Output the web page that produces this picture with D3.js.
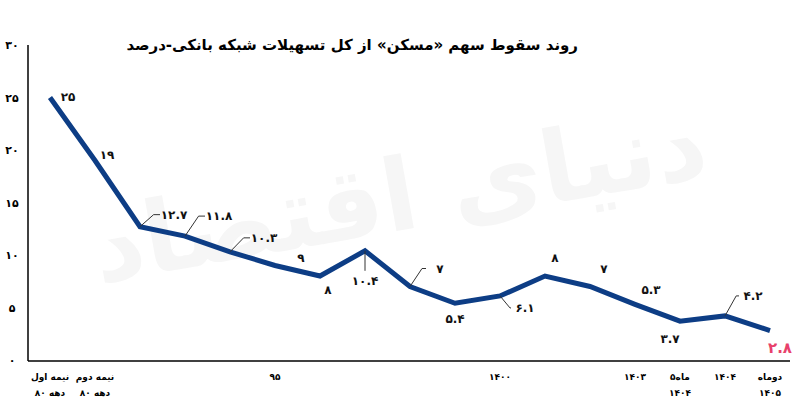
<!DOCTYPE html>
<html><head><meta charset="utf-8">
<script src="https://cdn.jsdelivr.net/npm/d3@7"></script>
<style>body{margin:0;background:#fff}text{font-family:"DejaVu Sans",sans-serif;font-weight:bold}</style>
</head><body><svg id="c" width="800" height="400"></svg>
<script>
// data
var values = [25, 19, 12.7, 11.8, 10.3, 9, 8, 10.4, 7, 5.4, 6.1, 8, 7, 5.3, 3.7, 4.2, 2.8];
var xLabels = [["نیمه اول", "دهه ۸۰"], ["نیمه دوم", "دهه ۸۰"], [""], [""], [""], ["۹۵"], [""], [""], [""], [""],
    ["۱۴۰۰"], [""], [""], ["۱۴۰۳"], ["۵ماه", "۱۴۰۴"], ["۱۴۰۴"], ["دوماه", "۱۴۰۵"]];
var yTicks = [0, 5, 10, 15, 20, 25, 30];
// label offsets [dx, dy, leader]
var labelPos = [[18, 3, 0], [12, -2, 0], [34, -8, 1], [34, -16, 1], [34, -10, 1], [26, -4, 0], [8, 18, 0], [0, 34, 2],
    [30, -14, 1], [0, 20, 0], [25, 16, 1], [10, -14, 0], [14, -14, 0], [16, -10, 0], [-10, 22, 0], [28, -16, 1], [10, 22, 0]];

function fa(v) { return String(v).replace(/[0-9]/g, function (d) { return "۰۱۲۳۴۵۶۷۸۹"[d]; }); }

var svg = d3.select("#c");
var x = d3.scalePoint().domain(d3.range(values.length)).range([50, 770]);
var y = d3.scaleLinear().domain([0, 30]).range([360, 45]);

svg.append("text").attr("x", 400).attr("y", 230).attr("text-anchor", "middle")
    .attr("font-size", 100).attr("fill", "#f6f6f6").attr("transform", "rotate(-10,400,200)")
    .text("دنیای اقتصاد");

svg.append("line").attr("x1", 28).attr("x2", 28).attr("y1", 45).attr("y2", 361).attr("stroke", "#000").attr("stroke-width", 1.5);
svg.append("line").attr("x1", 28).attr("x2", 790).attr("y1", 361).attr("y2", 361).attr("stroke", "#000").attr("stroke-width", 1.5);

svg.selectAll(".yt").data(yTicks).enter().append("text")
    .attr("x", 12).attr("y", function (d) { return y(d) + 4; }).attr("text-anchor", "middle")
    .attr("font-size", 11).text(function (d) { return fa(d); });

svg.append("text").attr("x", 578).attr("y", 50).attr("text-anchor", "start").attr("direction", "rtl")
    .attr("font-size", 15).text("روند سقوط سهم «مسکن» از کل تسهیلات شبکه بانکی-درصد");

var xl = svg.selectAll(".xl").data(xLabels).enter().append("text")
    .attr("text-anchor", "middle").attr("font-size", 9);
xl.each(function (d, i) {
    d3.select(this).selectAll("tspan").data(d).enter().append("tspan")
        .attr("x", x(i)).attr("y", function (s, j) { return 380 + j * 16; }).text(function (s) { return s; });
});

var line = d3.line().x(function (d, i) { return x(i); }).y(function (d) { return y(d); });
svg.append("path").datum(values).attr("d", line).attr("fill", "none")
    .attr("stroke", "#0d3d85").attr("stroke-width", 5).attr("stroke-linejoin", "miter");

values.forEach(function (v, i) {
    var p = labelPos[i], px = x(i), py = y(v);
    if (p[2] == 1) {
        svg.append("path").attr("fill", "none").attr("stroke", "#333").attr("stroke-width", 1)
            .attr("d", "M" + px + "," + py + "L" + (px + p[0] * 0.4) + "," + (py + p[1] - 4) + "H" + (px + p[0] - 14));
    } else if (p[2] == 2) {
        svg.append("path").attr("fill", "none").attr("stroke", "#333").attr("stroke-width", 1)
            .attr("d", "M" + px + "," + py + "V" + (py + p[1] - 14));
    }
    svg.append("text").attr("x", px + p[0]).attr("y", py + p[1]).attr("text-anchor", "middle")
        .attr("font-size", i == values.length - 1 ? 15 : 12)
        .attr("fill", i == values.length - 1 ? "#e8416b" : "#111").text(fa(v));
});
</script></body></html>
